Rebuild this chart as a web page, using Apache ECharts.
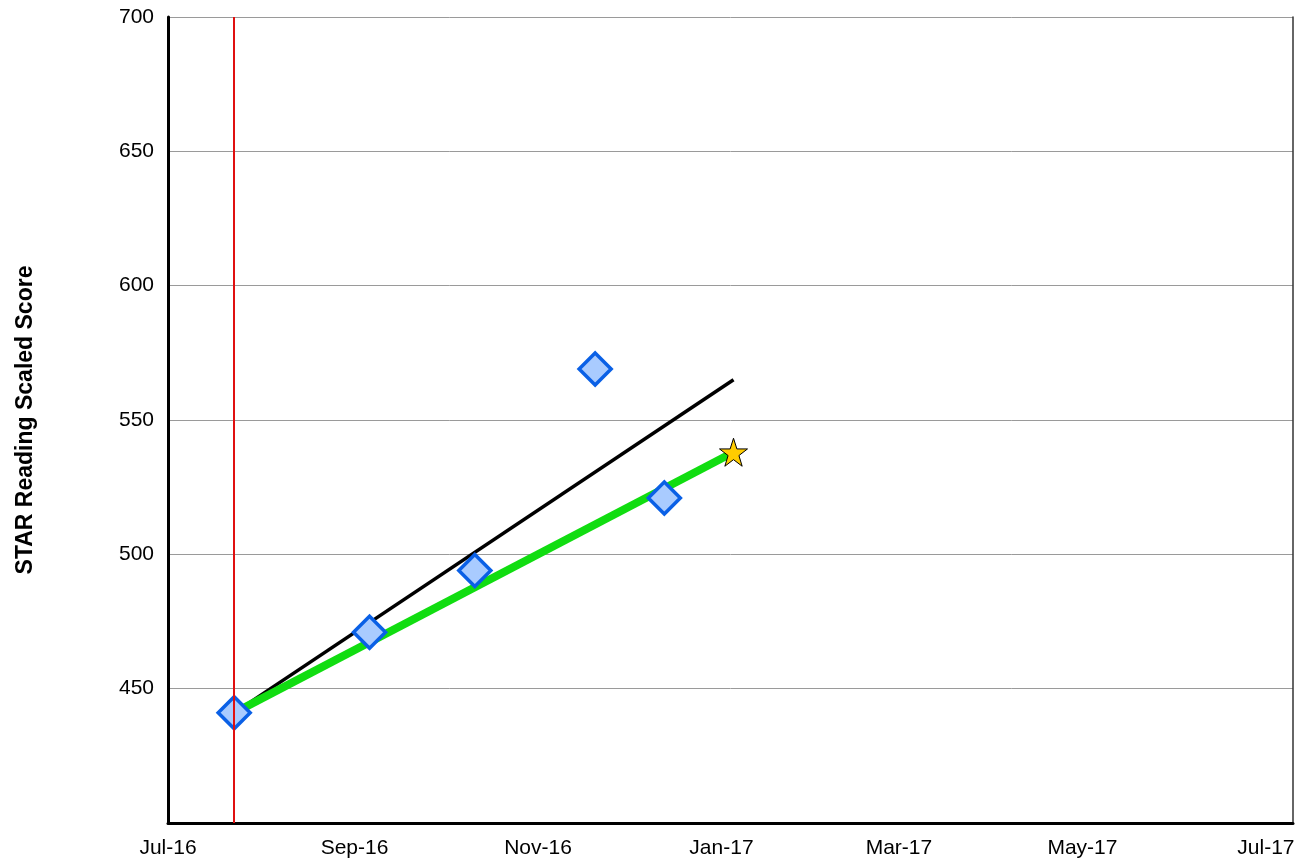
<!DOCTYPE html>
<html>
<head>
<meta charset="utf-8">
<script src="https://cdn.jsdelivr.net/npm/echarts@6/dist/echarts.min.js"></script>
<style>
html,body{margin:0;padding:0;background:#fff;}
#chart{width:1306px;height:861px;}
</style>
</head>
<body>
<div id="chart"></div>
<script>
// Data
var testDates = ['2016-07-23', '2016-09-06', '2016-10-11', '2016-11-20', '2016-12-13'];
var testScores = [441, 471, 494, 569, 521];
var goalDate = '2017-01-05';
var goalScore = 538;
var trendStart = ['2016-07-23', 441];
var trendEnd = ['2017-01-05', 565];
var baselineDate = '2016-07-23';
var tickDates = ['2016-07-01', '2016-09-01', '2016-11-01', '2017-01-01', '2017-03-01', '2017-05-01', '2017-07-01'];
var tickLabels = ['Jul-16', 'Sep-16', 'Nov-16', 'Jan-17', 'Mar-17', 'May-17', 'Jul-17'];
var yTicks = [450, 500, 550, 600, 650, 700];

function ts(d) { return new Date(d + 'T00:00:00Z').getTime(); }
var tickTs = tickDates.map(ts);

var chart = echarts.init(document.getElementById('chart'), null, {renderer: 'canvas'});
var font = 'Liberation Sans, Arial, sans-serif';

var option = {
  backgroundColor: '#ffffff',
  animation: false,
  grid: {left: 168, right: 13, top: 17, bottom: 38, containLabel: false},
  xAxis: {
    type: 'value',
    min: ts('2016-07-01'),
    max: ts('2017-07-10'),
    axisLine: {show: true, lineStyle: {color: '#000', width: 3}},
    axisTick: {show: false},
    splitLine: {show: false},
    axisLabel: {
      customValues: tickTs,
      color: '#000',
      fontFamily: font,
      fontSize: 21,
      margin: 15,
      hideOverlap: false,
      formatter: function (v) {
        var i = tickTs.indexOf(v);
        return i >= 0 ? tickLabels[i] : '';
      }
    }
  },
  yAxis: [{
    type: 'value',
    min: 400,
    max: 700,
    interval: 50,
    name: 'STAR Reading Scaled Score',
    nameLocation: 'middle',
    nameGap: 131,
    nameRotate: 90,
    nameTextStyle: {color: '#000', fontFamily: font, fontSize: 23, fontWeight: 'bold'},
    axisLine: {show: true, lineStyle: {color: '#000', width: 3}},
    axisTick: {show: false},
    splitLine: {show: true, lineStyle: {color: '#9a9a9a', width: 1}},
    axisLabel: {
      color: '#000',
      fontFamily: font,
      fontSize: 21,
      margin: 14,
      formatter: function (v) { return yTicks.indexOf(v) >= 0 ? String(v) : ''; }
    }
  }, {
    type: 'value',
    position: 'right',
    min: 400,
    max: 700,
    axisLine: {show: true, lineStyle: {color: '#333', width: 1.5}},
    axisTick: {show: false},
    axisLabel: {show: false},
    splitLine: {show: false}
  }],
  series: [
    {
      name: 'Trend',
      type: 'line',
      data: [[ts(trendStart[0]), trendStart[1]], [ts(trendEnd[0]), trendEnd[1]]],
      showSymbol: false,
      symbol: 'none',
      lineStyle: {color: '#000', width: 3.5},
      z: 2
    },
    {
      name: 'Goal',
      type: 'line',
      data: [[ts(testDates[0]), testScores[0]], [ts(goalDate), goalScore]],
      symbol: 'none',
      lineStyle: {color: '#11dd11', width: 8},
      z: 3
    },
    {
      name: 'Goal star',
      type: 'scatter',
      data: [[ts(goalDate), goalScore]],
      symbol: 'path://M50,0 L61.8,35.4 L99,35.4 L69,57.3 L80.3,92.7 L50,70.8 L19.7,92.7 L31,57.3 L1,35.4 L38.2,35.4 Z',
      symbolSize: 28,
      itemStyle: {color: '#ffcc00', borderColor: '#000', borderWidth: 1, opacity: 1},
      z: 5
    },
    {
      name: 'Scores',
      type: 'scatter',
      data: testDates.map(function (d, i) { return [ts(d), testScores[i]]; }),
      symbol: 'diamond',
      symbolSize: [32, 32],
      itemStyle: {color: '#a9cbff', borderColor: '#0a60e6', borderWidth: 3.5, opacity: 1},
      z: 4
    },
    {
      name: 'Baseline',
      type: 'line',
      data: [],
      markLine: {
        silent: true,
        symbol: ['none', 'none'],
        label: {show: false},
        lineStyle: {color: '#e01010', width: 2, type: 'solid'},
        data: [{xAxis: ts(baselineDate)}]
      },
      z: 6
    }
  ]
};
chart.setOption(option);
</script>
</body>
</html>
